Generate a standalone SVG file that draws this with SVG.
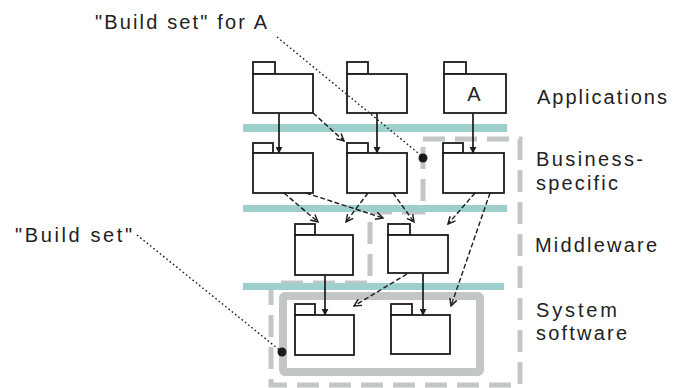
<svg xmlns="http://www.w3.org/2000/svg" width="673" height="388" viewBox="0 0 673 388">
  <style>
    .pkg rect, .pkg path { fill: #ffffff; stroke: #1e1a18; stroke-width: 1.8; }
    .band { fill: #9dcfcc; }
    .setA { fill: none; stroke: #c2c6c6; stroke-width: 5; stroke-dasharray: 22 10; }
    .set { fill: none; stroke: #c2c6c6; stroke-width: 8; }
    .dep { fill: none; stroke: #1e1a18; stroke-width: 1.4; stroke-dasharray: 5 2.5; marker-end: url(#open); }
    .use { fill: none; stroke: #1e1a18; stroke-width: 1.7; marker-end: url(#solid); }
    .lead { fill: none; stroke: #1e1a18; stroke-width: 1.4; stroke-dasharray: 1.6 2.6; }
    .dot { fill: #1e1a18; }
    text { font-family: "Liberation Sans", Arial, sans-serif; font-size: 20px; fill: #222222; }
  </style>
  <defs>
    <marker id="open" viewBox="0 0 10 10" refX="9" refY="5" markerWidth="9" markerHeight="9" markerUnits="userSpaceOnUse" orient="auto">
      <path d="M1,1 L9,5 L1,9" fill="none" stroke="#1e1a18" stroke-width="1.6"/>
    </marker>
    <marker id="solid" viewBox="0 0 10 10" refX="9" refY="5" markerWidth="7" markerHeight="7" markerUnits="userSpaceOnUse" orient="auto">
      <path d="M0,0 L10,5 L0,10 z" fill="#1e1a18"/>
    </marker>
  </defs>

  <!-- build-set outlines -->
  <g id="build-sets">
    <path class="setA" d="M423,139 H520 V385 H271 V283 H370 V212 H423 Z"/>
    <rect class="set" x="283" y="296" width="197" height="76" rx="2"/>
  </g>

  <!-- layer separators -->
  <g id="layer-bands">
    <rect class="band" x="243" y="124" width="264" height="8"/>
    <rect class="band" x="243" y="205" width="264" height="7"/>
    <rect class="band" x="243" y="283" width="261" height="7"/>
  </g>

  <!-- application packages -->
  <g id="app1" class="pkg">
    <rect x="253" y="62" width="22" height="12"/>
    <rect x="253" y="74" width="60" height="39"/>
  </g>
  <g id="app2" class="pkg">
    <rect x="347" y="62" width="21" height="12"/>
    <rect x="347" y="74" width="60" height="39"/>
  </g>
  <g id="appA" class="pkg">
    <rect x="444" y="62" width="22" height="12"/>
    <rect x="444" y="74" width="62" height="39"/>
    <text x="474" y="101" text-anchor="middle">A</text>
  </g>

  <!-- business-specific packages -->
  <g id="bus1" class="pkg">
    <rect x="253" y="143" width="20" height="10"/>
    <rect x="253" y="153" width="60" height="40"/>
  </g>
  <g id="bus2" class="pkg">
    <rect x="347" y="143" width="21" height="10"/>
    <rect x="347" y="153" width="60" height="40"/>
  </g>
  <g id="bus3" class="pkg">
    <rect x="443" y="143" width="20" height="10"/>
    <rect x="443" y="153" width="61" height="40"/>
  </g>

  <!-- middleware packages -->
  <g id="mid1" class="pkg">
    <rect x="295" y="224" width="20" height="11"/>
    <rect x="295" y="235" width="58" height="40"/>
  </g>
  <g id="mid2" class="pkg">
    <rect x="388" y="224" width="22" height="11"/>
    <rect x="388" y="235" width="60" height="38"/>
  </g>

  <!-- system software packages -->
  <g id="sys1" class="pkg">
    <rect x="295" y="304" width="20" height="11"/>
    <rect x="295" y="315" width="59" height="40"/>
  </g>
  <g id="sys2" class="pkg">
    <rect x="391" y="304" width="21" height="11"/>
    <rect x="391" y="315" width="59" height="39"/>
  </g>

  <!-- dependencies -->
  <g id="connectors">
    <line class="use" x1="279" y1="113" x2="279" y2="153"/>
    <line class="use" x1="377" y1="113" x2="377" y2="153"/>
    <line class="use" x1="473" y1="113" x2="473" y2="153"/>
    <line class="use" x1="325" y1="275" x2="325" y2="315"/>
    <line class="use" x1="423" y1="273" x2="423" y2="315"/>

    <line class="dep" x1="313" y1="113" x2="344" y2="141"/>
    <line class="dep" x1="284" y1="193" x2="318" y2="222"/>
    <line class="dep" x1="306" y1="193" x2="383" y2="218"/>
    <line class="dep" x1="368" y1="193" x2="346" y2="222"/>
    <line class="dep" x1="393" y1="193" x2="414" y2="222"/>
    <line class="dep" x1="475" y1="193" x2="448" y2="224"/>
    <line class="dep" x1="490" y1="193" x2="451" y2="306"/>
    <line class="dep" x1="407" y1="274" x2="354" y2="306"/>

    <line class="lead" x1="277" y1="37" x2="423" y2="157"/>
    <line class="lead" x1="137" y1="235" x2="282" y2="352"/>
    <circle class="dot" cx="423" cy="158" r="4.5"/>
    <circle class="dot" cx="282" cy="352" r="4.5"/>
  </g>

  <!-- annotations and layer names -->
  <g id="labels">
    <text x="95" y="29" textLength="172" lengthAdjust="spacing">"Build set" for A</text>
    <text x="15" y="242" textLength="117" lengthAdjust="spacing">"Build set"</text>
    <text x="537" y="104" textLength="130" lengthAdjust="spacing">Applications</text>
    <text x="536" y="166" textLength="107" lengthAdjust="spacing">Business-</text>
    <text x="536" y="190" textLength="82" lengthAdjust="spacing">specific</text>
    <text x="535" y="252" textLength="122" lengthAdjust="spacing">Middleware</text>
    <text x="536" y="317" textLength="81" lengthAdjust="spacing">System</text>
    <text x="536" y="340" textLength="91" lengthAdjust="spacing">software</text>
  </g>
</svg>
